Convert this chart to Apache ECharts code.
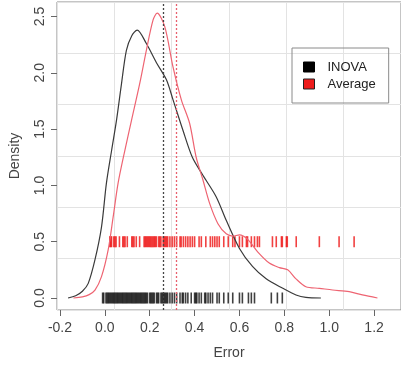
<!DOCTYPE html>
<html>
<head>
<meta charset="utf-8">
<script src="https://cdn.jsdelivr.net/npm/echarts@6/dist/echarts.min.js"></script>
<style>html,body{margin:0;padding:0;background:#fff}#c{width:401px;height:366px}</style>
</head>
<body>
<div id="c"></div>
<script>
// ---- data ----
var xTicks = [-0.2, 0.0, 0.2, 0.4, 0.6, 0.8, 1.0, 1.2];
var yTicks = [0.0, 0.5, 1.0, 1.5, 2.0, 2.5];

var inovaX = [-0.164, -0.13, -0.1, -0.074, -0.044, -0.015, 0.007, 0.03, 0.052, 0.074, 0.096, 0.12, 0.144, 0.185, 0.23, 0.274, 0.304, 0.348, 0.39, 0.437, 0.496, 0.541, 0.6, 0.658, 0.719, 0.793, 0.852, 0.896, 0.963];
var inovaY = [0, 0.02, 0.06, 0.13, 0.34, 0.63, 1.02, 1.31, 1.58, 1.9, 2.2, 2.33, 2.38, 2.26, 2.09, 1.94, 1.76, 1.49, 1.25, 1.09, 0.90, 0.69, 0.44, 0.28, 0.17, 0.086, 0.027, 0.005, 0];

var avgX = [-0.14, -0.1, -0.07, -0.044, -0.015, 0.015, 0.037, 0.059, 0.089, 0.119, 0.156, 0.185, 0.215, 0.233, 0.267, 0.304, 0.341, 0.378, 0.407, 0.437, 0.467, 0.504, 0.541, 0.57, 0.6, 0.637, 0.681, 0.733, 0.778, 0.815, 0.852, 0.896, 0.956, 1.015, 1.089, 1.148, 1.215];
var avgY = [0, 0.01, 0.03, 0.07, 0.19, 0.43, 0.72, 1.02, 1.31, 1.58, 1.91, 2.2, 2.47, 2.53, 2.41, 2.05, 1.76, 1.55, 1.25, 1.05, 0.84, 0.66, 0.57, 0.55, 0.56, 0.52, 0.41, 0.31, 0.27, 0.25, 0.17, 0.10, 0.086, 0.071, 0.056, 0.027, 0];

var inovaRug = [-0.01, -0.005, 0.005, 0.01, 0.015, 0.02, 0.025, 0.03, 0.035, 0.04, 0.045, 0.05, 0.055, 0.06, 0.065, 0.07, 0.075, 0.08, 0.085, 0.09, 0.095, 0.1, 0.105, 0.11, 0.115, 0.12, 0.125, 0.13, 0.135, 0.14, 0.145, 0.15, 0.155, 0.16, 0.165, 0.17, 0.175, 0.18, 0.185, 0.19, 0.2, 0.205, 0.21, 0.215, 0.22, 0.23, 0.235, 0.24, 0.25, 0.255, 0.26, 0.265, 0.27, 0.275, 0.28, 0.29, 0.3, 0.31, 0.32, 0.335, 0.345, 0.35, 0.36, 0.37, 0.385, 0.4, 0.405, 0.41, 0.42, 0.43, 0.445, 0.45, 0.46, 0.47, 0.48, 0.5, 0.51, 0.53, 0.55, 0.57, 0.6, 0.613, 0.64, 0.653, 0.667, 0.742, 0.769, 0.791];
var avgRug = [0.022, 0.026, 0.03, 0.04, 0.045, 0.05, 0.065, 0.08, 0.085, 0.09, 0.1, 0.12, 0.125, 0.13, 0.14, 0.155, 0.175, 0.18, 0.185, 0.19, 0.195, 0.2, 0.205, 0.21, 0.215, 0.22, 0.225, 0.23, 0.24, 0.245, 0.25, 0.26, 0.265, 0.27, 0.275, 0.28, 0.29, 0.3, 0.31, 0.32, 0.335, 0.34, 0.35, 0.36, 0.37, 0.38, 0.39, 0.4, 0.42, 0.43, 0.45, 0.47, 0.48, 0.49, 0.5, 0.51, 0.53, 0.55, 0.57, 0.58, 0.6, 0.613, 0.631, 0.636, 0.653, 0.667, 0.68, 0.689, 0.747, 0.764, 0.787, 0.791, 0.809, 0.813, 0.853, 0.956, 1.044, 1.111];

var meanInova = 0.262;
var meanAvg = 0.32;
var rugLevelInova = 0;
var rugLevelAvg = 0.5;

// ---- build ----
function zip(a, b) { return a.map(function (v, i) { return [v, b[i]]; }); }
function rug(a, y) { return a.map(function (v) { return [v, y]; }); }

var FONT = 'Liberation Sans';
var TXT = '#444';
var chart = echarts.init(document.getElementById('c'), null, { renderer: 'canvas' });
chart.setOption({
  animation: false,
  backgroundColor: '#fff',
  textStyle: { fontFamily: FONT },
  grid: { left: 57, top: 2, width: 345, height: 308, show: true, borderColor: '#8a8a8a', borderWidth: 1, backgroundColor: 'transparent' },
  legend: {
    left: 292, top: 48, orient: 'vertical',
    borderColor: '#8a8a8a', borderWidth: 1,
    padding: [12, 13, 12, 11],
    itemWidth: 11, itemHeight: 10, itemGap: 3,
    icon: 'rect',
    textStyle: { fontFamily: FONT, fontSize: 13, color: '#222', lineHeight: 14, padding: [0, 0, 0, 8] },
    data: [
      { name: 'INOVA', icon: 'rect', itemStyle: { color: '#000', borderColor: '#000', borderWidth: 1 } },
      { name: 'Average', icon: 'rect', itemStyle: { color: '#ee1c1c', borderColor: '#222', borderWidth: 1 } }
    ]
  },
  xAxis: [{
    type: 'value', min: -0.2133, max: 1.32,
    name: 'Error', nameLocation: 'middle', nameGap: 36,
    nameTextStyle: { fontFamily: FONT, fontSize: 14, color: TXT },
    axisLine: { show: false, onZero: false },
    axisTick: { show: true, length: 6, lineStyle: { color: '#666', width: 1 }, customValues: xTicks },
    axisLabel: { show: true, customValues: xTicks, fontFamily: FONT, fontSize: 14, color: TXT, margin: 11,
      formatter: function (v) { return v.toFixed(1); } },
    splitLine: { show: false }
  }, {
    type: 'value', min: 0, max: 6, interval: 1, gridIndex: 0, position: 'top',
    axisLine: { show: false, onZero: false }, axisTick: { show: false }, axisLabel: { show: false },
    splitLine: { show: true, lineStyle: { color: '#e3e3e3', width: 1 } }
  }],
  yAxis: [{
    type: 'value', min: -0.1066, max: 2.629, position: 'left',
    name: 'Density', nameLocation: 'middle', nameGap: 35, nameRotate: 90,
    nameTextStyle: { fontFamily: FONT, fontSize: 14, color: TXT },
    axisLine: { show: false, onZero: false },
    axisTick: { show: true, length: 6, lineStyle: { color: '#666', width: 1 }, customValues: yTicks },
    axisLabel: { show: true, customValues: yTicks, rotate: 90, fontFamily: FONT, fontSize: 14, color: TXT, margin: 10,
      formatter: function (v) { return v.toFixed(1); } },
    splitLine: { show: false }
  }, {
    type: 'value', min: 0, max: 6, interval: 1, position: 'right',
    axisLine: { show: false, onZero: false }, axisTick: { show: false }, axisLabel: { show: false },
    splitLine: { show: true, lineStyle: { color: '#e3e3e3', width: 1 } }
  }],
  series: [
    {
      name: 'INOVA', type: 'line', xAxisIndex: 0, yAxisIndex: 0,
      data: zip(inovaX, inovaY), smooth: 0.3, showSymbol: false, symbol: 'none',
      lineStyle: { color: '#3a3a3a', width: 1.2 }, itemStyle: { color: '#3a3a3a' }, z: 4,
      markLine: { silent: true, symbol: 'none', label: { show: false },
        lineStyle: { color: '#444', width: 1.3, type: [2, 2] },
        data: [{ xAxis: meanInova }] }
    },
    {
      name: 'Average', type: 'line', xAxisIndex: 0, yAxisIndex: 0,
      data: zip(avgX, avgY), smooth: 0.3, showSymbol: false, symbol: 'none',
      lineStyle: { color: '#ee6472', width: 1.2 }, itemStyle: { color: '#ee6472' }, z: 4,
      markLine: { silent: true, symbol: 'none', label: { show: false },
        lineStyle: { color: '#e8606e', width: 1.3, type: [2, 2] },
        data: [{ xAxis: meanAvg }] }
    },
    {
      name: 'rugInova', type: 'scatter', xAxisIndex: 0, yAxisIndex: 0,
      data: rug(inovaRug, rugLevelInova), symbol: 'rect', symbolSize: [1.6, 11],
      itemStyle: { color: '#000', opacity: 0.75 }, silent: true, z: 3
    },
    {
      name: 'rugAvg', type: 'scatter', xAxisIndex: 0, yAxisIndex: 0,
      data: rug(avgRug, rugLevelAvg), symbol: 'rect', symbolSize: [1.6, 11],
      itemStyle: { color: '#ee1111', opacity: 0.8 }, silent: true, z: 3
    }
  ]
});
</script>
</body>
</html>
